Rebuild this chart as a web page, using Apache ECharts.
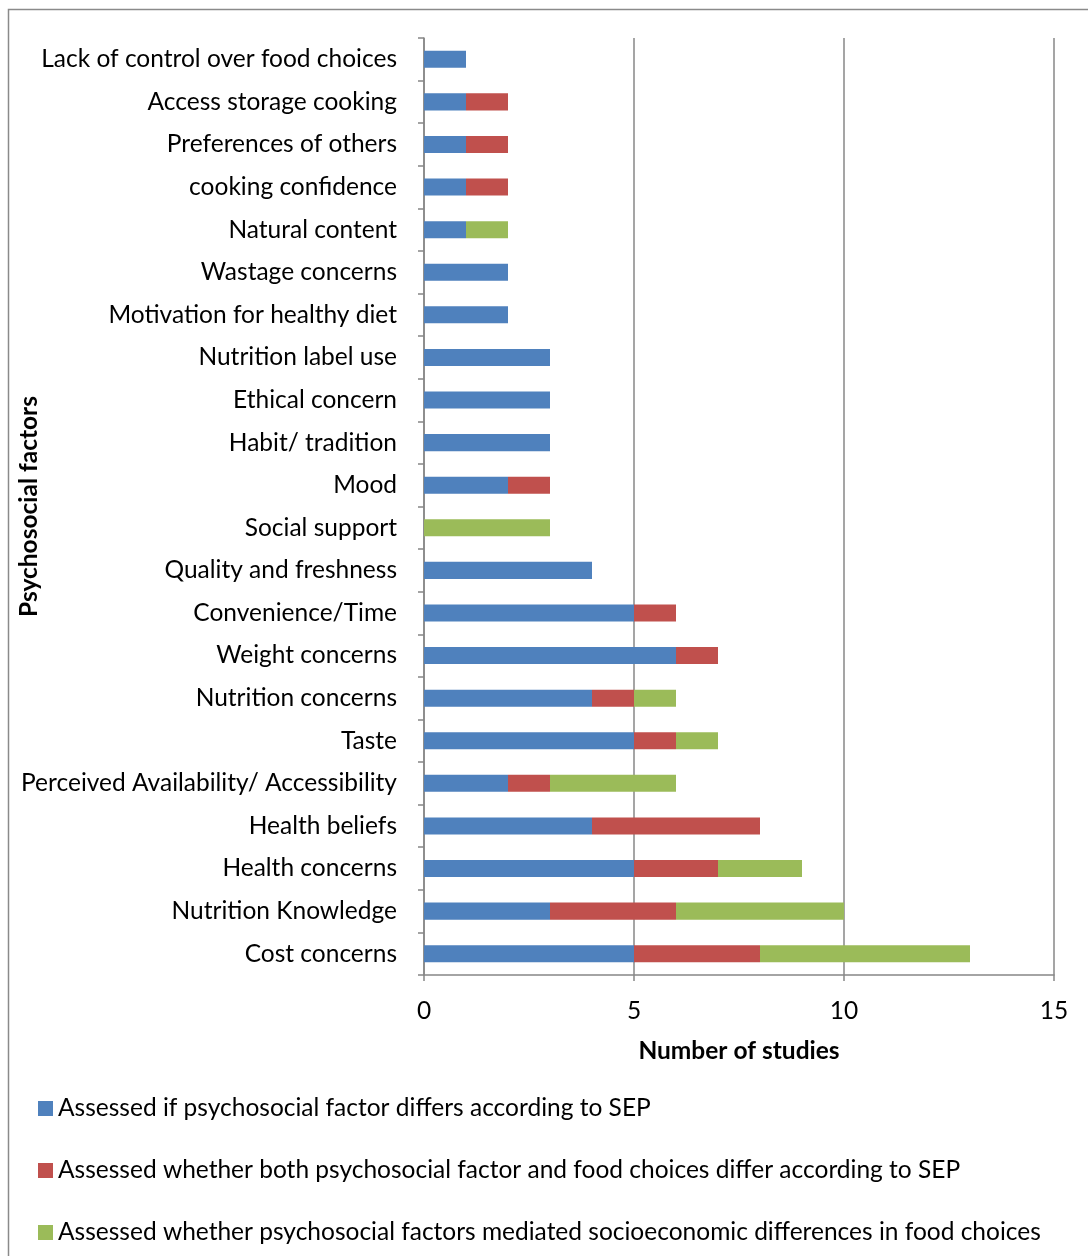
<!DOCTYPE html>
<html>
<head>
<meta charset="utf-8">
<script src="https://cdn.jsdelivr.net/npm/echarts@6/dist/echarts.min.js"></script>
<style>
  html, body { margin: 0; padding: 0; background: #fff; }
  #chart { width: 1088px; height: 1256px; }
</style>
</head>
<body>
<div id="chart"></div>
<script>
// Psychosocial factors (bottom to top on the category axis)
const factors = [
  'Cost concerns',
  'Nutrition Knowledge',
  'Health concerns',
  'Health beliefs',
  'Perceived Availability/ Accessibility',
  'Taste',
  'Nutrition concerns',
  'Weight concerns',
  'Convenience/Time',
  'Quality and freshness',
  'Social support',
  'Mood',
  'Habit/ tradition',
  'Ethical concern',
  'Nutrition label use',
  'Motivation for healthy diet',
  'Wastage concerns',
  'Natural content',
  'cooking confidence',
  'Preferences of others',
  'Access storage cooking',
  'Lack of control over food choices'
];

const seriesNames = [
  'Assessed if psychosocial factor differs according to SEP',
  'Assessed whether both psychosocial factor and food choices differ according to SEP',
  'Assessed whether psychosocial factors mediated socioeconomic differences in food choices'
];

// Number of studies per factor
const differsBySEP      = [5, 3, 5, 4, 2, 5, 4, 6, 5, 4, 0, 2, 3, 3, 3, 2, 2, 1, 1, 1, 1, 1];
const bothDifferBySEP   = [3, 3, 2, 4, 1, 1, 1, 1, 1, 0, 0, 1, 0, 0, 0, 0, 0, 0, 1, 1, 1, 0];
const mediatedSEPDiffs  = [5, 4, 2, 0, 3, 1, 1, 0, 0, 0, 3, 0, 0, 0, 0, 0, 0, 1, 0, 0, 0, 0];

const xTicks = [0, 5, 10, 15];

const colors = ['#4F81BD', '#C0504D', '#9BBB59'];
const FONT = 'Lato';
const FS = 24.5;
const gridColor = '#878787';

const chart = echarts.init(document.getElementById('chart'), null, { renderer: 'canvas' });

const valueSets = [differsBySEP, bothDifferBySEP, mediatedSEPDiffs];

chart.setOption({
  animation: false,
  backgroundColor: '#fff',
  textStyle: { fontFamily: FONT },
  graphic: [{
    type: 'rect',
    shape: { x: 8.5, y: 9.5, width: 1200, height: 1400 },
    style: { fill: 'none', stroke: '#8a8a8a', lineWidth: 1.5 },
    silent: true
  }],
  grid: { left: 424, right: 34, top: 38, bottom: 281, containLabel: false, outerBoundsMode: 'none' },
  legend: {
    orient: 'vertical',
    left: 33,
    top: 1091,
    height: 200,
    itemWidth: 15,
    itemHeight: 15,
    itemGap: 37,
    icon: 'rect',
    textStyle: { fontFamily: FONT, fontSize: FS, lineHeight: 22, color: '#000', padding: [0, 0, 0, 0] },
    data: seriesNames
  },
  xAxis: {
    type: 'value',
    min: xTicks[0],
    max: xTicks[xTicks.length - 1],
    interval: xTicks[1] - xTicks[0],
    name: 'Number of studies',
    nameLocation: 'middle',
    nameGap: 64,
    nameMoveOverlap: false,
    nameTextStyle: { fontFamily: FONT, fontSize: FS, fontWeight: 'bold', color: '#000' },
    axisLine: { show: true, lineStyle: { color: gridColor, width: 1.5 } },
    axisTick: { show: true, length: 6, lineStyle: { color: gridColor, width: 1.5 } },
    axisLabel: { fontFamily: FONT, fontSize: FS, color: '#000', margin: 24 },
    splitLine: { show: true, lineStyle: { color: gridColor, width: 1.5 } }
  },
  yAxis: {
    type: 'category',
    data: factors,
    name: 'Psychosocial factors',
    nameLocation: 'middle',
    nameRotate: 90,
    nameGap: 382,
    nameMoveOverlap: false,
    nameTextStyle: { fontFamily: FONT, fontSize: FS, fontWeight: 'bold', color: '#000' },
    axisLine: { show: true, lineStyle: { color: gridColor, width: 1.5 } },
    axisTick: { show: true, length: 6, alignWithLabel: false, lineStyle: { color: gridColor, width: 1.5 } },
    axisLabel: { fontFamily: FONT, fontSize: FS, color: '#000', margin: 27 },
    splitLine: { show: false }
  },
  series: valueSets.map((vals, i) => ({
    name: seriesNames[i],
    type: 'bar',
    stack: 'studies',
    data: vals,
    barWidth: '40%',
    itemStyle: { color: colors[i] }
  }))
});
</script>
</body>
</html>
